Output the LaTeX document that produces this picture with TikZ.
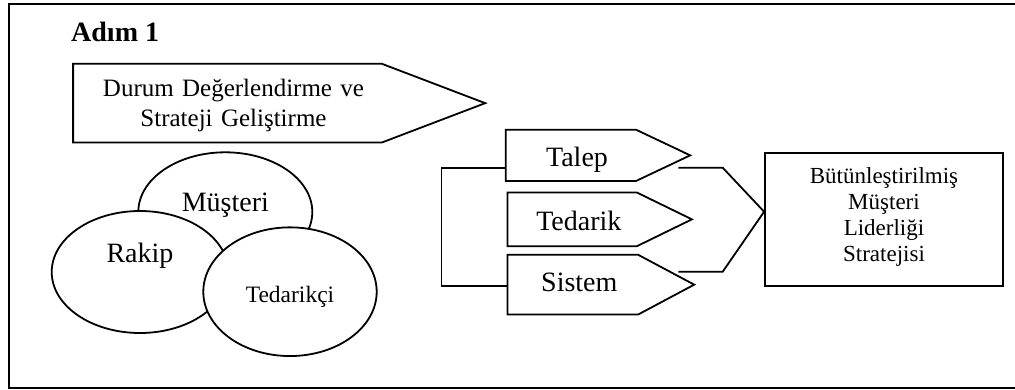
\documentclass[tikz,border=0pt]{standalone}
\usepackage{fontspec}
\setmainfont{Liberation Serif}
\usetikzlibrary{shapes.geometric,calc}
\begin{document}
\begin{tikzpicture}[x=1pt,y=-1pt,
  outline/.style={line width=1.8pt, line join=miter},
  big/.style={font=\fontsize{28}{32}\selectfont},
  body/.style={draw=none, inner sep=0pt, big},
  bubble/.style={ellipse, draw, fill=white, line width=1.8pt, inner sep=0pt, big},
]
\useasboundingbox (0,0) rectangle (1015,389);

% outer frame (right side runs off the page)
\draw[line width=2pt] (9,4) rectangle (1040,387.5);

% heading
\node[anchor=base west, inner sep=0pt, font=\bfseries\fontsize{28}{32}\selectfont] (title) at (71,41.7) {Adım 1};

% first step arrow
\node[body, minimum width=308.4, minimum height=78.3, text width=290, align=center,
      text height=10, text depth=22.9, font=\fontsize{25}{29.3}\selectfont]
  (durum) at (227.5,103.15) {\hspace*{12pt}Durum Değerlendirme ve\\\hspace*{12pt}Strateji Geliştirme};
\draw[outline] (durum.north west) -- (durum.north east) -- ([xshift=103.3pt]durum.east)
  -- (durum.south east) -- (durum.south west) -- cycle;

% three overlapping bubbles
\node[bubble, minimum width=174, minimum height=119.4, text height=9, text depth=11]
  (musteri) at (225.3,212) {Müşteri};
\node[bubble, minimum width=176.6, minimum height=122, text height=5, text depth=25]
  (rakip) at (140,272) {Rakip};
\node[bubble, minimum width=173.4, minimum height=128.7, text height=25.3, text depth=4.7,
      font=\fontsize{23.5}{27}\selectfont]
  (tedarikci) at (290,291.7) {Tedarikçi};

% the three pointed boxes
\node[body, minimum width=130, minimum height=50.7, text height=25, text depth=3.7]
  (talep) at (571,155.35) {\hspace*{12pt}Talep};
\draw[outline] (talep.north west) -- (talep.north east) -- ([xshift=54pt]talep.east)
  -- (talep.south east) -- (talep.south west) -- cycle;

\node[body, minimum width=129, minimum height=53.3, text height=25, text depth=3.7]
  (tedarik) at (572.2,219.35) {\hspace*{13.2pt}Tedarik};
\draw[outline] (tedarik.north west) -- (tedarik.north east) -- ([xshift=55pt]tedarik.east)
  -- (tedarik.south east) -- (tedarik.south west) -- cycle;

\node[body, minimum width=130.3, minimum height=59.3, text height=20, text depth=5.9]
  (sistem) at (572.85,284.65) {\hspace*{12.9pt}Sistem};
\draw[outline] (sistem.north west) -- (sistem.north east) -- ([xshift=56pt]sistem.east)
  -- (sistem.south east) -- (sistem.south west) -- cycle;

% bracket tying Talep and Sistem together
\draw[outline] ($(talep.west)+(0,12.35)$) -- ++(-64.3,0) |- ($(sistem.west)+(0,1.05)$);

% result box
\node[draw, line width=1.8pt, inner sep=0pt, minimum width=238, minimum height=133.3,
      text width=220, align=center, text height=10, text depth=82.1,
      font=\fontsize{23}{25.9}\selectfont]
  (strat) at (884,219.35) {Bütünleştirilmiş\\Müşteri\\Liderliği\\Stratejisi};

% converging connector into the result box
\coordinate (tEnd) at (678.3,167.7);
\coordinate (sEnd) at (678.3,271.7);
\draw[outline] (tEnd) -- ++(44.4,0) -- ($(strat.west)+(0,-7.65)$)
  -- ($(sEnd)+(44.4,0)$) -- (sEnd);
\end{tikzpicture}
\end{document}
